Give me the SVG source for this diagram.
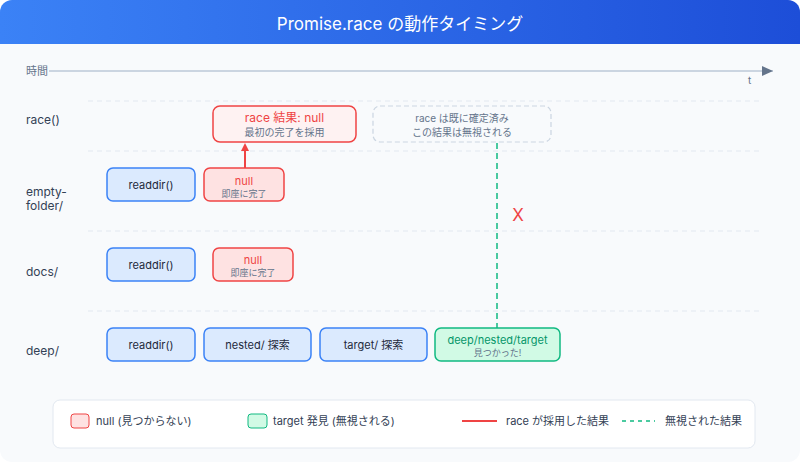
<svg xmlns="http://www.w3.org/2000/svg" width="800" height="462" viewBox="0 0 800 462">
<defs>
<linearGradient id="hdr" x1="0" y1="0" x2="1" y2="0">
<stop offset="0" stop-color="#3b82f6"/>
<stop offset="1" stop-color="#1d4ed8"/>
</linearGradient>
<clipPath id="round"><rect x="0" y="0" width="800" height="462" rx="12"/></clipPath>
<marker id="axisHead" markerWidth="12" markerHeight="10" refX="11" refY="5" orient="auto" markerUnits="userSpaceOnUse">
<path d="M0,0 L11,5 L0,10 Z" fill="#64748b"/>
</marker>
<marker id="redHead" markerWidth="10" markerHeight="8" refX="4" refY="8" orient="0" markerUnits="userSpaceOnUse">
<path d="M0,8 L4,0 L8,8 Z" fill="#ef4444"/>
</marker>
<style>
text{font-family:Inter,"Noto Sans CJK JP",sans-serif;}
.row{font-size:12px;fill:#334155;}
.lbl{font-size:11px;fill:#1e293b;text-anchor:middle;}
.sub{font-size:9px;fill:#64748b;text-anchor:middle;}
.sub10{font-size:10px;fill:#64748b;text-anchor:middle;}
.red{fill:#ef4444;}
.grn{fill:#059669;}
.grid{stroke:#e2e8f0;stroke-width:1;stroke-dasharray:5,4;}
.blue{fill:#dbeafe;stroke:#3b82f6;stroke-width:1.5;}
.nul{fill:#fee2e2;stroke:#ef4444;stroke-width:1.5;}
.leg{font-size:11px;fill:#334155;}
</style>
</defs>
<g clip-path="url(#round)">
<rect x="0" y="0" width="800" height="462" fill="#f8fafc"/>
<rect x="0" y="0" width="800" height="44" fill="url(#hdr)"/>
</g>
<text x="400" y="30" text-anchor="middle" font-size="17" fill="#ffffff">Promise.race の動作タイミング</text>

<g id="axis">
<text x="26" y="75" font-size="11" fill="#64748b">時間</text>
<line x1="49" y1="71" x2="773" y2="71" stroke="#cbd5e1" stroke-width="2" marker-end="url(#axisHead)"/>
<text x="748" y="84" font-size="10" fill="#64748b">t</text>
</g>

<g id="grid">
<line class="grid" x1="88" y1="101" x2="762" y2="101"/>
<line class="grid" x1="88" y1="151" x2="762" y2="151"/>
<line class="grid" x1="88" y1="231" x2="762" y2="231"/>
<line class="grid" x1="88" y1="311" x2="762" y2="311"/>
</g>

<g id="row-labels">
<text class="row" x="26" y="124">race()</text>
<text class="row" x="26" y="196">empty-</text>
<text class="row" x="26" y="210">folder/</text>
<text class="row" x="26" y="276">docs/</text>
<text class="row" x="26" y="355">deep/</text>
</g>

<g id="connectors">
<line x1="245" y1="169" x2="245" y2="151" stroke="#ef4444" stroke-width="2" marker-end="url(#redHead)"/>
<line x1="497" y1="143" x2="497" y2="328" stroke="#10b981" stroke-width="1.5" stroke-dasharray="6,4"/>
<text x="518" y="221" text-anchor="middle" font-size="17" fill="#ef4444">X</text>
</g>

<g id="race-result">
<rect x="213" y="106" width="143" height="36" rx="7" fill="#fef2f2" stroke="#ef4444" stroke-width="1.5"/>
<text class="lbl red" x="284.5" y="122" style="font-size:12px">race 結果: null</text>
<text class="sub10" x="284.5" y="136">最初の完了を採用</text>
</g>

<g id="race-ignored">
<rect x="373" y="106" width="178" height="36" rx="7" fill="none" stroke="#cbd5e1" stroke-width="1.2" stroke-dasharray="5,3"/>
<text class="sub10" x="462" y="122">race は既に確定済み</text>
<text class="sub10" x="462" y="136">この結果は無視される</text>
</g>

<g id="empty-readdir">
<rect class="blue" x="107" y="168" width="88" height="33" rx="6"/>
<text class="lbl" x="151" y="189">readdir()</text>
</g>
<g id="empty-null">
<rect class="nul" x="204" y="168" width="80" height="33" rx="6"/>
<text class="lbl red" x="244" y="185">null</text>
<text class="sub" x="244" y="197">即座に完了</text>
</g>

<g id="docs-readdir">
<rect class="blue" x="107" y="248" width="88" height="33" rx="6"/>
<text class="lbl" x="151" y="269">readdir()</text>
</g>
<g id="docs-null">
<rect class="nul" x="213" y="248" width="80" height="33" rx="6"/>
<text class="lbl red" x="253" y="264">null</text>
<text class="sub" x="253" y="276">即座に完了</text>
</g>

<g id="deep-readdir">
<rect class="blue" x="107" y="328" width="88" height="33" rx="6"/>
<text class="lbl" x="151" y="349">readdir()</text>
</g>
<g id="deep-nested">
<rect class="blue" x="204" y="328" width="107" height="33" rx="6"/>
<text class="lbl" x="257.5" y="349">nested/ 探索</text>
</g>
<g id="deep-target">
<rect class="blue" x="320" y="328" width="107" height="33" rx="6"/>
<text class="lbl" x="373.5" y="349">target/ 探索</text>
</g>
<g id="deep-found">
<rect x="435" y="328" width="125" height="33" rx="6" fill="#d1fae5" stroke="#10b981" stroke-width="1.5"/>
<text class="lbl grn" x="497.5" y="344">deep/nested/target</text>
<text class="sub" x="497.5" y="356">見つかった!</text>
</g>

<g id="legend">
<rect x="53" y="400" width="702" height="48" rx="7" fill="#ffffff" stroke="#e2e8f0" stroke-width="1"/>
<rect x="71" y="414" width="18" height="14" rx="3" fill="#fee2e2" stroke="#ef4444" stroke-width="1"/>
<text class="leg" x="96" y="425">null (見つからない)</text>
<rect x="248" y="414" width="19" height="14" rx="3" fill="#d1fae5" stroke="#10b981" stroke-width="1"/>
<text class="leg" x="273" y="425">target 発見 (無視される)</text>
<line x1="462" y1="421" x2="497" y2="421" stroke="#ef4444" stroke-width="2"/>
<text class="leg" x="506" y="425">race が採用した結果</text>
<line x1="622" y1="421" x2="655" y2="421" stroke="#10b981" stroke-width="1.5" stroke-dasharray="4,4"/>
<text class="leg" x="665" y="425">無視された結果</text>
</g>
</svg>
